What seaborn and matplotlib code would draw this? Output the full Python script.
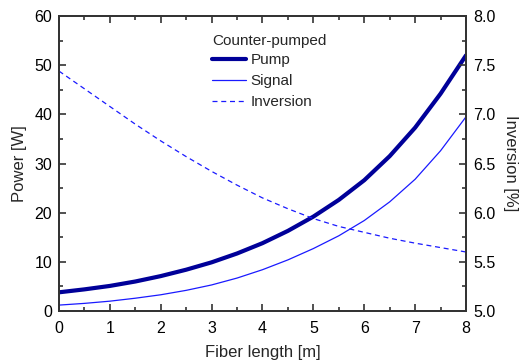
import matplotlib
matplotlib.use("Agg")
import matplotlib.pyplot as plt
from matplotlib.ticker import MultipleLocator
import seaborn as sns
import pandas as pd

# Fiber position along the amplifier [m]
length_m = [0.0, 0.5, 1.0, 1.5, 2.0, 2.5, 3.0, 3.5, 4.0, 4.5, 5.0, 5.5, 6.0, 6.5, 7.0, 7.5, 8.0]
# Counter-propagating pump power [W]
pump_w = [3.8, 4.4, 5.1, 6.0, 7.1, 8.4, 9.9, 11.7, 13.8, 16.3, 19.2, 22.6, 26.6, 31.5, 37.3, 44.2, 52.0]
# Signal power [W]
signal_w = [1.2, 1.55, 2.0, 2.6, 3.3, 4.2, 5.3, 6.7, 8.4, 10.4, 12.7, 15.3, 18.4, 22.2, 26.8, 32.6, 39.5]
# Population inversion [%]
inversion_pct = [7.44, 7.26, 7.08, 6.90, 6.73, 6.57, 6.42, 6.28, 6.15, 6.04, 5.94, 5.86, 5.80, 5.74, 5.69, 5.645, 5.60]

df = pd.DataFrame({"z": length_m, "pump": pump_w, "signal": signal_w, "inv": inversion_pct})

sns.set_style("ticks")
plt.rcParams["font.family"] = ["Liberation Sans", "DejaVu Sans"]
plt.rcParams["axes.linewidth"] = 1.3
plt.rcParams["axes.edgecolor"] = "#333333"

fig = plt.figure(figsize=(5.28, 3.64), dpi=100)
ax = fig.add_axes([0.1117, 0.1456, 0.7709, 0.8104])
ax2 = ax.twinx()

pump_color = "#000099"
sig_color = "#1a1aff"

sns.lineplot(data=df, x="z", y="pump", ax=ax, color=pump_color, linewidth=3.0, label="Pump", legend=False)
sns.lineplot(data=df, x="z", y="signal", ax=ax, color=sig_color, linewidth=0.9, label="Signal", legend=False)
sns.lineplot(data=df, x="z", y="inv", ax=ax2, color=sig_color, linewidth=0.9, linestyle=(0, (4, 3)),
             label="Inversion", legend=False)

ax.set_xlim(0, 8)
ax.set_ylim(0, 60)
ax2.set_ylim(5.0, 8.0)

ax.xaxis.set_major_locator(MultipleLocator(1))
ax.xaxis.set_minor_locator(MultipleLocator(0.5))
ax.yaxis.set_major_locator(MultipleLocator(10))
ax.yaxis.set_minor_locator(MultipleLocator(5))
ax2.yaxis.set_major_locator(MultipleLocator(0.5))
ax2.yaxis.set_minor_locator(MultipleLocator(0.25))
ax2.yaxis.set_major_formatter(matplotlib.ticker.FormatStrFormatter("%.1f"))

ax.tick_params(axis="x", which="both", direction="in", top=True, bottom=True, labelsize=11.5, colors="#333333",
               labelcolor="black", pad=7)
ax.tick_params(axis="y", which="both", direction="in", left=True, right=False, labelsize=11.5, colors="#333333",
               labelcolor="black", pad=5)
ax2.tick_params(axis="y", which="both", direction="in", right=True, labelsize=11.5, colors="#333333",
                labelcolor="black", pad=5)
for a in (ax, ax2):
    a.tick_params(which="major", length=5, width=1.2)
    a.tick_params(which="minor", length=3, width=1.2)

for s in ax.spines.values():
    s.set_visible(True)
for s in ax2.spines.values():
    s.set_visible(True)

ax.set_xlabel("Fiber length [m]", fontsize=12, labelpad=7)
ax.set_ylabel("Power [W]", fontsize=12, labelpad=5)
ax2.set_ylabel("Inversion [%]", fontsize=12, rotation=270, labelpad=16)

h1, l1 = ax.get_legend_handles_labels()
h2, l2 = ax2.get_legend_handles_labels()
leg = ax2.legend(h1 + h2, l1 + l2, title="Counter-pumped", loc="upper left", bbox_to_anchor=(0.377, 0.94),
                 frameon=False, fontsize=11, title_fontsize=11, handlelength=2.2, handletextpad=0.3,
                 labelspacing=0.45, borderaxespad=0, borderpad=0)
leg._legend_box.align = "left"
leg._legend_box.sep = 4

fig.savefig("out.png", dpi=100)
